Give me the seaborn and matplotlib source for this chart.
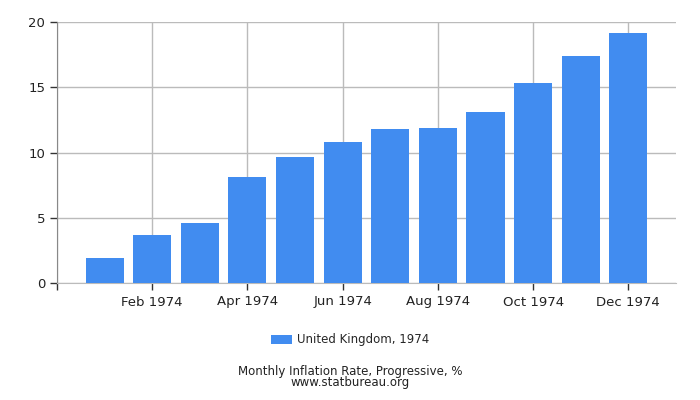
import pandas as pd
import matplotlib
matplotlib.use("Agg")
import matplotlib.pyplot as plt
import seaborn as sns

# Data
months = ['Jan 1974', 'Feb 1974', 'Mar 1974', 'Apr 1974', 'May 1974', 'Jun 1974',
          'Jul 1974', 'Aug 1974', 'Sep 1974', 'Oct 1974', 'Nov 1974', 'Dec 1974']
rates = [1.92, 3.68, 4.6, 8.12, 9.66, 10.8, 11.8, 11.88, 13.1, 15.33, 17.4, 19.16]
series_name = 'United Kingdom, 1974'

df = pd.DataFrame({'Mes': months, 'Rate': rates, 'Serie': series_name})

sns.set_style('white')
plt.rcParams['font.family'] = ['DejaVu Sans']

fig = plt.figure(figsize=(7, 4), dpi=100)
ax = fig.add_axes([0.0814, 0.2925, 0.8843, 0.6525])

sns.barplot(data=df, x='Mes', y='Rate', hue='Serie', palette=['#418cf0'],
            width=0.8, saturation=1, linewidth=0, ax=ax, zorder=3, legend=True)

ax.set_xlim(-1, 12)
ax.set_ylim(0, 20)
ax.set_yticks([0, 5, 10, 15, 20])
ticks = list(range(1, 12, 2))
ax.set_xticks([-1] + ticks)
ax.set_xticklabels([''] + [months[i] for i in ticks])
ax.set_xlabel('')
ax.set_ylabel('')

ax.grid(True, color='#bbbbbb', linewidth=1, zorder=0)
for s in ['top', 'right']:
    ax.spines[s].set_visible(False)
ax.spines['left'].set_color('#888888')
ax.spines['bottom'].set_color('#bbbbbb')
ax.tick_params(axis='both', bottom=True, left=True, length=5, width=1,
               color='#333333', labelsize=9.5, labelcolor='#222222')
ax.tick_params(axis='x', pad=4)

leg = ax.legend(loc='center', bbox_to_anchor=(0.5, 0.15), bbox_transform=fig.transFigure,
                frameon=False, fontsize=8.5, handlelength=1.8, handleheight=0.7,
                handletextpad=0.4)

fig.text(0.5, 0.027, 'Monthly Inflation Rate, Progressive, %\nwww.statbureau.org',
         ha='center', va='bottom', fontsize=8.5, color='#222222', linespacing=0.85)

fig.savefig('out.png', dpi=100)
